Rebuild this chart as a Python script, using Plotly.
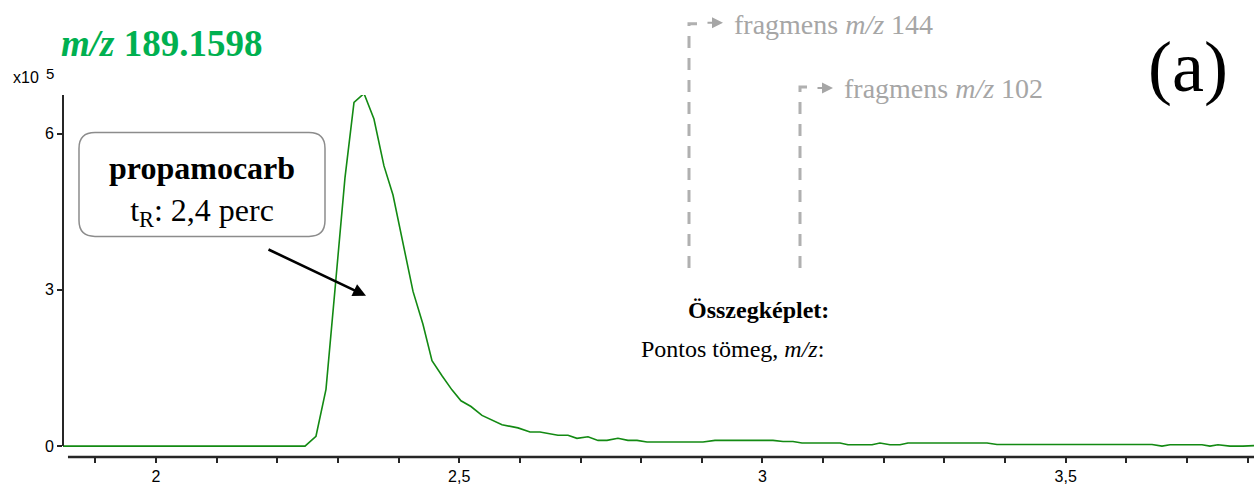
import plotly.graph_objects as go

# Extracted ion chromatogram, m/z 189.1598 (intensity in units of 1e5 counts)
time_min = [
    1.8467, 2.2457, 2.2638, 2.2803, 2.2951, 2.3116, 2.3265, 2.3430, 2.3594,
    2.3759, 2.3908, 2.4073, 2.4238, 2.4402, 2.4551, 2.4716, 2.4880, 2.5029,
    2.5194, 2.5375, 2.5705, 2.5969, 2.6167, 2.6331, 2.6628, 2.6793, 2.6941,
    2.7123, 2.7288, 2.7436, 2.7617, 2.7782, 2.7931, 2.8096, 2.9019, 2.9217,
    3.0173, 3.0338, 3.0503, 3.0651, 3.1278, 3.1410, 3.1806, 3.1937, 3.2102,
    3.2267, 3.2399, 3.3702, 3.3867, 3.4246, 3.6422, 3.6587, 3.6719, 3.7246,
    3.7378, 3.7510, 3.7708, 3.7923, 3.8104,
]
intensity_e5 = [
    0.0, 0.0, 0.19, 1.09, 3.0, 5.15, 6.6, 6.77, 6.28,
    5.38, 4.82, 3.9, 2.97, 2.34, 1.64, 1.35, 1.08, 0.87,
    0.76, 0.59, 0.41, 0.35, 0.27, 0.27, 0.21, 0.21, 0.15,
    0.18, 0.11, 0.11, 0.15, 0.11, 0.11, 0.08, 0.08, 0.11,
    0.11, 0.09, 0.09, 0.06, 0.06, 0.025, 0.025, 0.06, 0.025,
    0.025, 0.06, 0.06, 0.03, 0.03, 0.03, 0.0, 0.025, 0.025,
    0.0, 0.025, 0.0, 0.0, 0.01,
]

x_tick_vals = [1.9, 2.0, 2.1, 2.2, 2.3, 2.4, 2.5, 2.6, 2.7, 2.8, 2.9,
               3.0, 3.1, 3.2, 3.3, 3.4, 3.5, 3.6, 3.7, 3.8]
x_tick_text = ["", "2", "", "", "", "", "2,5", "", "", "", "",
               "3", "", "", "", "", "3,5", "", "", ""]
y_tick_vals = [0, 3, 6]
y_tick_text = ["0", "3", "6"]

x_range = [1.8467, 3.8104]
y_range = [-0.2089, 6.741]

W, H = 1254, 485
ML, MR, MT, MB = 63, 0, 95, 24
PW, PH = W - ML - MR, H - MT - MB

SERIF = "Liberation Serif, Times New Roman, serif"
SANS = "Liberation Sans, Arial, sans-serif"
AXIS_COL = "#262626"
GREY_TXT = "#a6a6a6"
GREY_LINE = "#b0b0b0"


def px(x):
    return (x - ML) / PW


def py(y):
    return (H - MB - y) / PH


def pt(x, y):
    return f"{px(x):.5f},{py(y):.5f}"


def rounded_rect(x0, y0, x1, y1, r):
    return (
        f"M {pt(x0 + r, y0)} L {pt(x1 - r, y0)} Q {pt(x1, y0)} {pt(x1, y0 + r)} "
        f"L {pt(x1, y1 - r)} Q {pt(x1, y1)} {pt(x1 - r, y1)} "
        f"L {pt(x0 + r, y1)} Q {pt(x0, y1)} {pt(x0, y1 - r)} "
        f"L {pt(x0, y0 + r)} Q {pt(x0, y0)} {pt(x0 + r, y0)} Z"
    )


fig = go.Figure()
fig.add_trace(go.Scatter(
    x=time_min, y=intensity_e5, mode="lines",
    line=dict(color="#138a13", width=1.6), hoverinfo="skip",
))

shapes = [
    # y axis line (stops at zero)
    dict(type="line", xref="paper", yref="y", x0=0, x1=0, y0=0, y1=y_range[1],
         line=dict(color=AXIS_COL, width=2)),
    # x axis line
    dict(type="line", xref="x", yref="paper", x0=1.8549, x1=x_range[1], y0=0, y1=0,
         line=dict(color=AXIS_COL, width=2.5)),
    # compound label box
    dict(type="path", xref="paper", yref="paper",
         path=rounded_rect(79, 133, 325, 238, 16),
         line=dict(color="#8c8c8c", width=1.5), fillcolor="rgba(255,255,255,0)"),
    # fragment pointers
    dict(type="path", xref="paper", yref="paper",
         path=f"M {pt(689, 270)} L {pt(689, 23)} L {pt(697, 23)}",
         line=dict(color=GREY_LINE, width=3, dash="12px,10px")),
    dict(type="path", xref="paper", yref="paper",
         path=f"M {pt(800, 270)} L {pt(800, 87)} L {pt(808, 87)}",
         line=dict(color=GREY_LINE, width=3, dash="12px,10px")),
]

annotations = [
    dict(text="<b><i>m/z</i> 189.1598</b>", x=px(59), y=py(43), xanchor="left",
         yanchor="middle", font=dict(family=SERIF, size=37, color="#00b050")),
    dict(text="x10", x=px(11), y=py(77), xanchor="left", yanchor="middle",
         font=dict(family=SANS, size=16, color="#000")),
    dict(text="5", x=px(44), y=py(73), xanchor="left", yanchor="middle",
         font=dict(family=SANS, size=15, color="#000")),
    dict(text="<b>propamocarb</b><br>t<sub>R</sub>: 2,4 perc", x=px(202), y=py(192),
         xanchor="center", yanchor="middle", align="center",
         font=dict(family=SERIF, size=32, color="#000")),
    dict(text="", x=2.3463, y=2.886, xref="x", yref="y", showarrow=True,
         ax=-99, ay=-47, arrowhead=2, arrowsize=1, arrowwidth=2.6, arrowcolor="#000"),
    dict(text="(a)", x=px(1188), y=py(67), xanchor="center", yanchor="middle",
         font=dict(family=SERIF, size=72, color="#000")),
    dict(text="<b>Összegképlet:</b>", x=px(831), y=py(312), xanchor="right",
         yanchor="middle", font=dict(family=SERIF, size=24, color="#000")),
    dict(text="Pontos tömeg, <i>m/z</i>:", x=px(639), y=py(352), xanchor="left",
         yanchor="middle", font=dict(family=SERIF, size=24, color="#000")),
    # fragment labels with small pointing arrows
    dict(text="", x=px(723), y=py(22), showarrow=True, ax=-17, ay=0,
         arrowhead=2, arrowsize=1.1, arrowwidth=2, arrowcolor=GREY_TXT),
    dict(text="fragmens <i>m/z</i> 144", x=px(732), y=py(24), xanchor="left",
         yanchor="middle", font=dict(family=SERIF, size=28, color=GREY_TXT)),
    dict(text="", x=px(833), y=py(88), showarrow=True, ax=-17, ay=0,
         arrowhead=2, arrowsize=1.1, arrowwidth=2, arrowcolor=GREY_TXT),
    dict(text="fragmens <i>m/z</i> 102", x=px(842), y=py(88), xanchor="left",
         yanchor="middle", font=dict(family=SERIF, size=28, color=GREY_TXT)),
]
for a in annotations:
    a.setdefault("xref", "paper")
    a.setdefault("yref", "paper")
    a.setdefault("showarrow", False)

fig.update_layout(
    width=W, height=H,
    margin=dict(l=ML, r=MR, t=MT, b=MB, pad=0),
    paper_bgcolor="white", plot_bgcolor="white",
    showlegend=False,
    shapes=shapes,
    annotations=annotations,
    xaxis=dict(range=x_range, showgrid=False, zeroline=False, showline=False,
               tickmode="array", tickvals=x_tick_vals, ticktext=x_tick_text,
               ticks="outside", ticklen=5, tickwidth=1.5, tickcolor=AXIS_COL,
               tickfont=dict(family=SANS, size=16, color="#000")),
    yaxis=dict(range=y_range, showgrid=False, zeroline=False, showline=False,
               tickmode="array", tickvals=y_tick_vals, ticktext=y_tick_text,
               ticks="outside", ticklen=5, tickwidth=1.5, tickcolor=AXIS_COL,
               tickfont=dict(family=SANS, size=16, color="#000")),
)

fig.write_html("out.html", config={"displayModeBar": False})
